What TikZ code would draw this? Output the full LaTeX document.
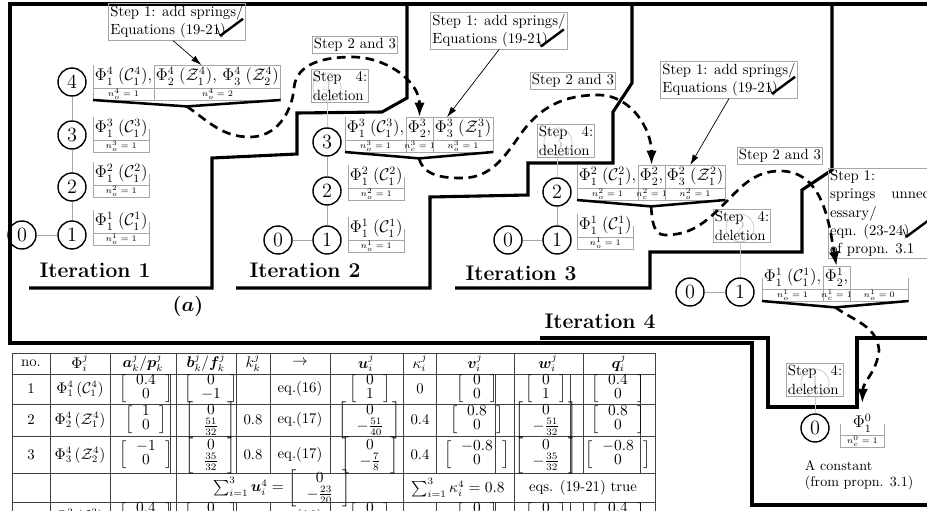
\documentclass[tikz,border=0pt]{standalone}
\usepackage{amsmath}
\usepackage{bm}
\usetikzlibrary{positioning, arrows.meta, calc}

\newcommand\phifont{\fontsize{12}{14}\selectfont}
\newcommand\phiof[5]{$\Phi_{#1}^{#2}\;(\mathcal{#3}_{#4}^{#5})$}
\newcommand\tabphi[5]{$\Phi_{#1}^{#2}\,(\mathcal{#3}_{#4}^{#5})$}
\newcommand\colvec[2]{$\def\arraystretch{0.85}\left[\begin{array}{@{\hspace{2.4mm}}c@{\hspace{2.4mm}}}#1\\#2\end{array}\right]$}
\newcommand\phileft[1]{\draw[lbl] (#1.north west) -- (#1.south west);}
\newcommand\phistub[1]{\draw[lbl] (#1.west) -- (#1.south west);}
\newcommand\phiright[1]{\draw[lbl] (#1.east) -- (#1.south east);}
\newcommand\phibrack[1]{\draw[lbl] (#1.south west) |- (#1.north east) -- (#1.south east);}
\newcommand\ncell[2]{%
  \draw[lbl] (#1.south west) rectangle ([yshift=-3mm]#1.south east);
  \node[ntext] (#1n) at ([yshift=-1.5mm]#1.south) {#2};}
\newcommand\phivee[3]{%
  \coordinate (#3) at ($(#1.south west)!0.5!(#2.south east) + (0,-4.6mm)$);
  \draw[vee] ([yshift=-3mm]#1.south west) -- (#3) -- ([yshift=-3mm]#2.south east);}

\begin{document}
\begin{tikzpicture}[x=0.25mm, y=-0.25mm,
      vtx/.style={circle, draw, line width=1pt, minimum size=7mm, inner sep=0pt,
                  font=\fontsize{14.4}{14.4}\selectfont},
      ghost/.style={vtx, draw=gray!40, text=gray!40, line width=0.6pt},
      tree/.style={gray!70, line width=0.6pt},
      phi/.style={inner sep=0.4mm, text height=3.5mm, text depth=1.3mm, font=\phifont},
      lbl/.style={gray!70, line width=0.6pt},
      ntext/.style={font=\fontsize{6}{6}\selectfont, inner sep=0pt},
      vee/.style={line width=1.8pt},
      stepbox/.style={draw=gray!70, line width=0.6pt, inner sep=1.2pt, align=left,
                      font=\fontsize{10.5}{13}\selectfont},
      border/.style={line width=2.2pt},
      flow/.style={line width=1.9pt, dash pattern=on 2.2mm off 1.4mm,
                   -{Latex[length=3.6mm,width=2.6mm]}},
      pointer/.style={line width=0.5pt, -{Latex[length=2.6mm,width=1.6mm]}},
      itlabel/.style={font=\fontsize{15}{18}\selectfont\bfseries},
      cell/.style={font=\fontsize{10.5}{11.5}\selectfont, inner sep=0pt},
      grid/.style={black!75, line width=0.4pt},
      tick/.pic={\draw[line width=0.5pt] (-3,-8) -- (0,0);
                 \draw[line width=1.7pt] (0,0) -- (23,-17);},
   ]
   \useasboundingbox (0,0) rectangle (927,511);
   \clip (0,0) rectangle (927,511);

   % frame and region borders
   \draw[border] (927,4) -- (10,4) -- (10,343) -- (752,343) -- (752,505) -- (927,505);
   \draw[border] (29,288) -- (212,288) -- (212,158) -- (297,154) -- (297,113)
                 -- (382,112) -- (407,98) -- (407,4);
   \draw[border] (236,288) -- (430,288) -- (430,197) -- (528,195) -- (528,163)
                 -- (613,163) -- (613,112) -- (632,83) -- (632,4);
   \draw[border] (455,288) -- (650,288) -- (650,252) -- (802,252) -- (802,190)
                 -- (832,170) -- (832,4);
   \draw[border] (540,338) -- (768,338) -- (768,407) -- (857,407) -- (857,338) -- (927,338);

   % Iteration 1
   \node[vtx] (v14) at (72,82) {4};
   \node[vtx] (v13) at (72,135) {3};
   \node[vtx] (v12) at (72,187) {2};
   \node[vtx] (v11) at (72,235) {1};
   \node[vtx] (v10) at (22,235) {0};
   \draw[tree] (v14) -- (v13) -- (v12) -- (v11) -- (v10);

   \node[phi, anchor=south west] (L14a) at (93,88) {\phiof{1}{4}{C}{1}{4},};
   \node[phi, right=0pt of L14a] (L14b) {\phiof{2}{4}{Z}{1}{4}, \phiof{3}{4}{Z}{2}{4}};
   \phileft{L14a} \phibrack{L14b}
   \ncell{L14a}{$n_o^4=1$} \ncell{L14b}{$n_o^4=2$}
   \phivee{L14a}{L14b}{V1}

   \node[phi, anchor=south west] (L13a) at (93,140) {\phiof{1}{3}{C}{1}{3}};
   \phileft{L13a} \phiright{L13a} \ncell{L13a}{$n_o^3=1$}
   \node[phi, anchor=south west] (L12a) at (93,185) {\phiof{1}{2}{C}{1}{2}};
   \phileft{L12a} \phiright{L12a} \ncell{L12a}{$n_o^2=1$}
   \node[phi, anchor=south west] (L11a) at (93,233) {\phiof{1}{1}{C}{1}{1}};
   \phileft{L11a} \phiright{L11a} \ncell{L11a}{$n_o^1=1$}

   \node[stepbox] (s1a) at (177,22) {Step 1: add springs/\\Equations (19-21)};
   \pic at ([xshift=-6.4mm, yshift=1.2mm]s1a.south east) {tick};
   \draw[pointer] ([xshift=-1mm]s1a.south) -- ([xshift=-4mm]L14b.north);

   \node[itlabel] (it1) at (95,270) {Iteration 1};
   \node[font=\fontsize{15}{18}\selectfont\bfseries\boldmath] (fa) at (188,306) {$(a)$};

   % Iteration 2
   \node[ghost] (g4) at (327,87) {4};
   \node[vtx] (v23) at (327,142) {3};
   \node[vtx] (v22) at (327,191) {2};
   \node[vtx] (v21) at (327,240) {1};
   \node[vtx] (v20) at (278,240) {0};
   \draw[tree, gray!40] (g4) -- (v23);
   \draw[tree] (v23) -- (v22) -- (v21) -- (v20);
   \node[stepbox] (d2) at (340,86) {\makebox[13.6mm][s]{Step 4:}\\deletion};
   \node[stepbox] (s23b) at (355,45) {Step 2 and 3};

   \node[phi, anchor=south west] (L23a) at (345,140) {\phiof{1}{3}{C}{1}{3},};
   \node[phi, right=0pt of L23a] (L23b) {$\Phi_2^3$,};
   \node[phi, right=0pt of L23b] (L23c) {\phiof{3}{3}{Z}{1}{3}};
   \phileft{L23a} \phibrack{L23b} \phibrack{L23c}
   \ncell{L23a}{$n_o^3=1$} \ncell{L23b}{$n_c^3=1$} \ncell{L23c}{$n_o^3=1$}
   \phivee{L23a}{L23c}{V2}

   \node[phi, anchor=south west] (L22a) at (348,188) {\phiof{1}{2}{C}{1}{2}};
   \phileft{L22a} \phiright{L22a} \ncell{L22a}{$n_o^2=1$}
   \node[phi, anchor=south west] (L21a) at (348,240) {\phiof{1}{1}{C}{1}{1}};
   \phileft{L21a} \phiright{L21a} \ncell{L21a}{$n_o^1=1$}

   \node[stepbox] (s1b) at (499,31) {Step 1: add springs/\\Equations (19-21)};
   \pic at ([xshift=-6.7mm, yshift=0.8mm]s1b.south east) {tick};
   \draw[pointer] (s1b.south) -- ([xshift=-4mm]L23c.north);

   \node[itlabel] (it2) at (305,270) {Iteration 2};

   % Iteration 3
   \node[ghost] (g3) at (558,142) {3};
   \node[vtx] (v32) at (557,192) {2};
   \node[vtx] (v31) at (557,240) {1};
   \node[vtx] (v30) at (508,240) {0};
   \draw[tree, gray!40] (g3) -- (v32);
   \draw[tree] (v32) -- (v31) -- (v30);
   \node[stepbox] (d3) at (566,141) {\makebox[13.6mm][s]{Step 4:}\\deletion};
   \node[stepbox] (s23c) at (573,81) {Step 2 and 3};

   \node[phi, anchor=south west] (L32a) at (577,188) {\phiof{1}{2}{C}{1}{2},};
   \node[phi, right=0pt of L32a] (L32b) {$\Phi_2^2$,};
   \node[phi, right=0pt of L32b] (L32c) {\phiof{3}{2}{Z}{1}{2}};
   \phileft{L32a} \phibrack{L32b} \phibrack{L32c}
   \ncell{L32a}{$n_o^2=1$} \ncell{L32b}{$n_c^2=1$} \ncell{L32c}{$n_o^2=1$}
   \phivee{L32a}{L32c}{V3}

   \node[phi, anchor=south west] (L31a) at (577,237) {\phiof{1}{1}{C}{1}{1}};
   \phileft{L31a} \phiright{L31a} \ncell{L31a}{$n_o^1=1$}

   \node[stepbox] (s1c) at (729,80) {Step 1: add springs/\\Equations (19-21)};
   \pic at ([xshift=-6.4mm, yshift=1.2mm]s1c.south east) {tick};
   \draw[pointer] (s1c.south) -- ([xshift=-1.2mm]L32c.north);

   \node[itlabel] (it3) at (521,273) {Iteration 3};

   % Iteration 4
   \node[ghost] (g2) at (740,228) {2};
   \node[vtx] (v41) at (740,292) {1};
   \node[vtx] (v40) at (690,292) {0};
   \draw[tree, gray!40] (g2) -- (v41);
   \draw[tree] (v41) -- (v40);
   \node[stepbox] (d4) at (742,226) {\makebox[13.6mm][s]{Step 4:}\\deletion};
   \node[stepbox] (s23d) at (780,156) {Step 2 and 3};

   \node[phi, anchor=south west] (L41a) at (762,289) {\phiof{1}{1}{C}{1}{1},};
   \node[phi, right=0pt of L41a] (L41b) {$\Phi_2^1$,};
   \node[phi, right=0pt of L41b, minimum width=14.5mm] (L41c) {};
   \phistub{L41a} \phibrack{L41b} \phiright{L41c}
   \ncell{L41a}{$n_o^1=1$} \ncell{L41b}{$n_c^1=1$} \ncell{L41c}{$n_o^1=0$}
   \phivee{L41a}{L41c}{V4}

   \node[stepbox, anchor=north west] (s1d) at (828,168)
      {Step 1:\\\makebox[26mm][s]{springs unnec-}\\essary/\\eqn. (23-24)\\of propn. 3.1};
   \pic at (906,237) {tick};

   \node[itlabel] (it4) at (600,321) {Iteration 4};

   % constant
   \node[ghost] (g1) at (815,383) {1};
   \node[vtx] (v50) at (815,428) {0};
   \draw[tree, gray!40] (g1) -- (v50);
   \node[stepbox] (d5) at (815,380) {\makebox[13.6mm][s]{Step 4:}\\deletion};
   \node[phi, anchor=south west, minimum width=11mm] (L50a) at (840,435) {$\Phi_1^0$};
   \phistub{L50a} \phiright{L50a} \ncell{L50a}{$n_c^0=1$}
   \coordinate (c0) at ([yshift=2.2mm]L50a.north);
   \node[anchor=north west, align=left, font=\fontsize{10}{12}\selectfont] (cst)
      at (800,455) {A constant\\(from propn. 3.1)};

   % moves between iterations
   \draw[flow] (V1) to[out=-35,in=180] (250,137) to[out=0,in=-95] (294,88)
               to[out=85,in=180] (352,57) to[out=0,in=90] (L23b.north);
   \draw[flow] (V2) to[out=-75,in=180] (462,178) to[out=0,in=-125] (520,135)
               to[out=55,in=180] (598,95) to[out=0,in=90] (L32b.north);
   \draw[flow] (V3) to[out=-85,in=180] (665,235) to[out=0,in=-135] (722,206)
               to[out=45,in=180] (780,171) to[out=0,in=100] (L41b.north);
   \draw[flow] (V4) to[out=-35,in=95] (879,350) to[out=-95,in=88] (c0);

   % table
   \draw[grid] (12,353) -- (655,353);
   \foreach \y in {374,404,436,473,502}
      \draw[grid] (12,\y) -- (655,\y);
   \foreach \x in {12,50,110,176,236,270,330,403,436,514,583,655}{
      \draw[grid] (\x,353) -- (\x,473);
      \draw[grid] (\x,502) -- (\x,515);
   }
   \foreach \x in {170,495,570,640}{
      \draw[grid] (\x,374) -- (\x,473);
      \draw[grid] (\x,502) -- (\x,515);
   }
   \foreach \x in {12,50,110,176,403,514,655}
      \draw[grid] (\x,473) -- (\x,502);

   \foreach \x/\t in {31/no., 80/{$\Phi_i^j$}, 143/{$\bm{a}_k^j/\bm{p}_k^j$},
         206/{$\bm{b}_k^j/\bm{f}_k^j$}, 253/{$k_k^j$}, 300/{$\rightarrow$},
         366/{$\bm{u}_i^j$}, 420/{$\kappa_i^j$}, 475/{$\bm{v}_i^j$},
         548/{$\bm{w}_i^j$}, 619/{$\bm{q}_i^j$}}
      \node[cell] (h\x) at (\x,363) {\t};

   \foreach \x/\t in {31/1, 80/{\tabphi{1}{4}{C}{1}{4}}, 146/{\colvec{0.4}{0}},
         211/{\colvec{0}{-1}}, 300/{eq.(16)}, 370/{\colvec{0}{1}}, 420/0,
         477/{\colvec{0}{0}}, 546/{\colvec{0}{1}}, 618/{\colvec{0.4}{0}}}
      \node[cell] (ra\x) at (\x,389) {\t};

   \foreach \x/\t in {31/2, 80/{\tabphi{2}{4}{Z}{1}{4}}, 146/{\colvec{1}{0}},
         211/{\colvec{0}{\frac{51}{32}}}, 253/0.8, 300/{eq.(17)},
         370/{\colvec{0}{-\frac{51}{40}}}, 420/0.4, 477/{\colvec{0.8}{0}},
         546/{\colvec{0}{-\frac{51}{32}}}, 618/{\colvec{0.8}{0}}}
      \node[cell] (rb\x) at (\x,420) {\t};

   \foreach \x/\t in {31/3, 80/{\tabphi{3}{4}{Z}{2}{4}}, 146/{\colvec{-1}{0}},
         211/{\colvec{0}{\frac{35}{32}}}, 253/0.8, 300/{eq.(17)},
         370/{\colvec{0}{-\frac{7}{8}}}, 420/0.4, 477/{\colvec{-0.8}{0}},
         546/{\colvec{0}{-\frac{35}{32}}}, 618/{\colvec{-0.8}{0}}}
      \node[cell] (rc\x) at (\x,455) {\t};

   \node[cell] (su) at (282,488) {$\sum_{i=1}^3\bm{u}_i^4 =$ \colvec{0}{-\frac{23}{20}}};
   \node[cell] (sk) at (458,488) {$\sum_{i=1}^3\kappa_i^4 = 0.8$};
   \node[cell] (se) at (583,488) {eqs. (19-21) true};

   \foreach \x/\t in {31/4, 80/{\tabphi{1}{3}{C}{1}{3}}, 146/{\colvec{0.4}{0}},
         211/{\colvec{0}{-1}}, 300/{eq.(16)}, 370/{\colvec{0}{1}}, 420/0,
         477/{\colvec{0}{0}}, 546/{\colvec{0}{1}}, 618/{\colvec{0.4}{0}}}
      \node[cell] (rd\x) at (\x,517) {\t};
\end{tikzpicture}
\end{document}
